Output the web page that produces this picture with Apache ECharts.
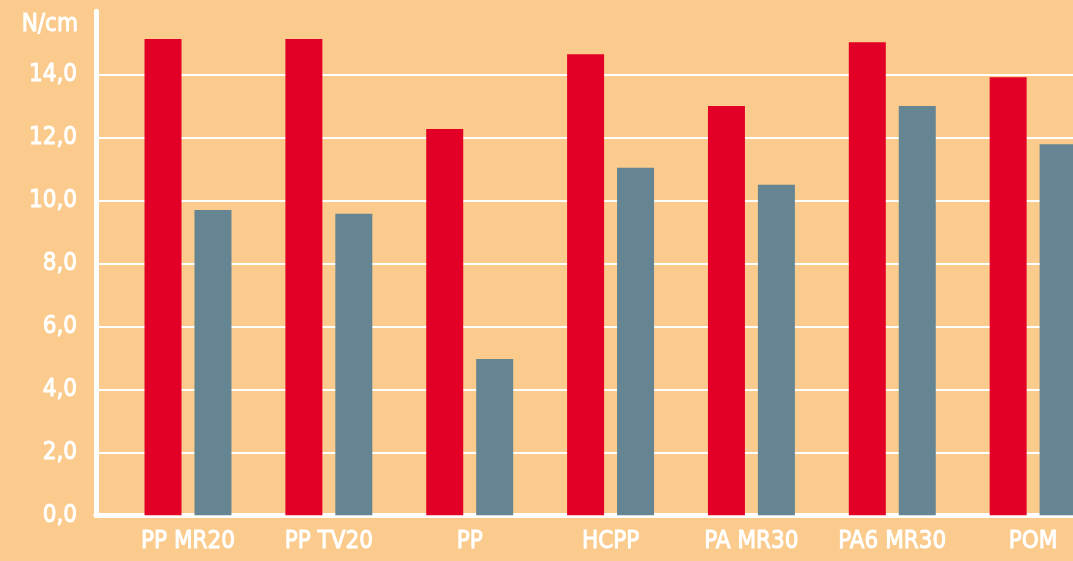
<!DOCTYPE html>
<html>
<head>
<meta charset="utf-8">
<script src="https://cdn.jsdelivr.net/npm/echarts@6/dist/echarts.min.js"></script>
<style>
html,body{margin:0;padding:0;background:#FACB8C;}
#chart{width:1073px;height:561px;}
</style>
</head>
<body>
<div id="chart"></div>
<script>
const categories = ['PP MR20', 'PP TV20', 'PP', 'HCPP', 'PA MR30', 'PA6 MR30', 'POM'];
const redValues = [15.12, 15.12, 12.26, 14.64, 12.99, 15.02, 13.91];
const greyValues = [9.69, 9.57, 4.96, 11.03, 10.49, 12.99, 11.78];
const yTicks = [0, 2, 4, 6, 8, 10, 12, 14];
const yUnit = 'N/cm';

const FONT = '"DejaVu Sans Condensed", "Liberation Sans Narrow", sans-serif';
const idx = categories.map((c, i) => i);
const txt = { color: '#ffffff', fontFamily: FONT, fontSize: 24, textBorderColor: '#ffffff', textBorderWidth: 0.9 };

const chart = echarts.init(document.getElementById('chart'));
chart.setOption({
  backgroundColor: '#FACB8C',
  animation: false,
  grid: { left: 96, right: 0, top: 11.3, bottom: 45.7, containLabel: false },
  xAxis: {
    type: 'value',
    min: -0.6531,
    max: 6.283,
    splitLine: { show: false },
    axisLine: { show: true, onZero: false, lineStyle: { color: '#ffffff', width: 5 } },
    axisTick: { show: false, customValues: idx },
    axisLabel: Object.assign({
      customValues: idx,
      formatter: v => categories[Math.round(v)],
      margin: 14
    }, txt)
  },
  yAxis: {
    type: 'value',
    min: 0,
    max: 16,
    interval: 2,
    name: yUnit,
    nameLocation: 'end',
    nameGap: -13,
    nameTextStyle: Object.assign({ align: 'right', verticalAlign: 'middle', padding: [0, 18, 0, 0] }, txt),
    axisLine: { show: true, onZero: false, lineStyle: { color: '#ffffff', width: 5 } },
    axisTick: { show: false },
    axisLabel: Object.assign({
      margin: 19,
      showMaxLabel: false,
      formatter: v => (yTicks.indexOf(v) >= 0 ? v.toFixed(1).replace('.', ',') : '')
    }, txt),
    splitLine: { show: true, showMaxLine: false, lineStyle: { color: '#ffffff', width: 2 } }
  },
  series: [
    {
      type: 'bar',
      data: redValues.map((v, i) => [idx[i], v]),
      barWidth: 37,
      barGap: '35%',
      itemStyle: { color: '#E20026' }
    },
    {
      type: 'bar',
      data: greyValues.map((v, i) => [idx[i], v]),
      barWidth: 37,
      barGap: '35%',
      itemStyle: { color: '#658592' }
    }
  ]
});
</script>
</body>
</html>
